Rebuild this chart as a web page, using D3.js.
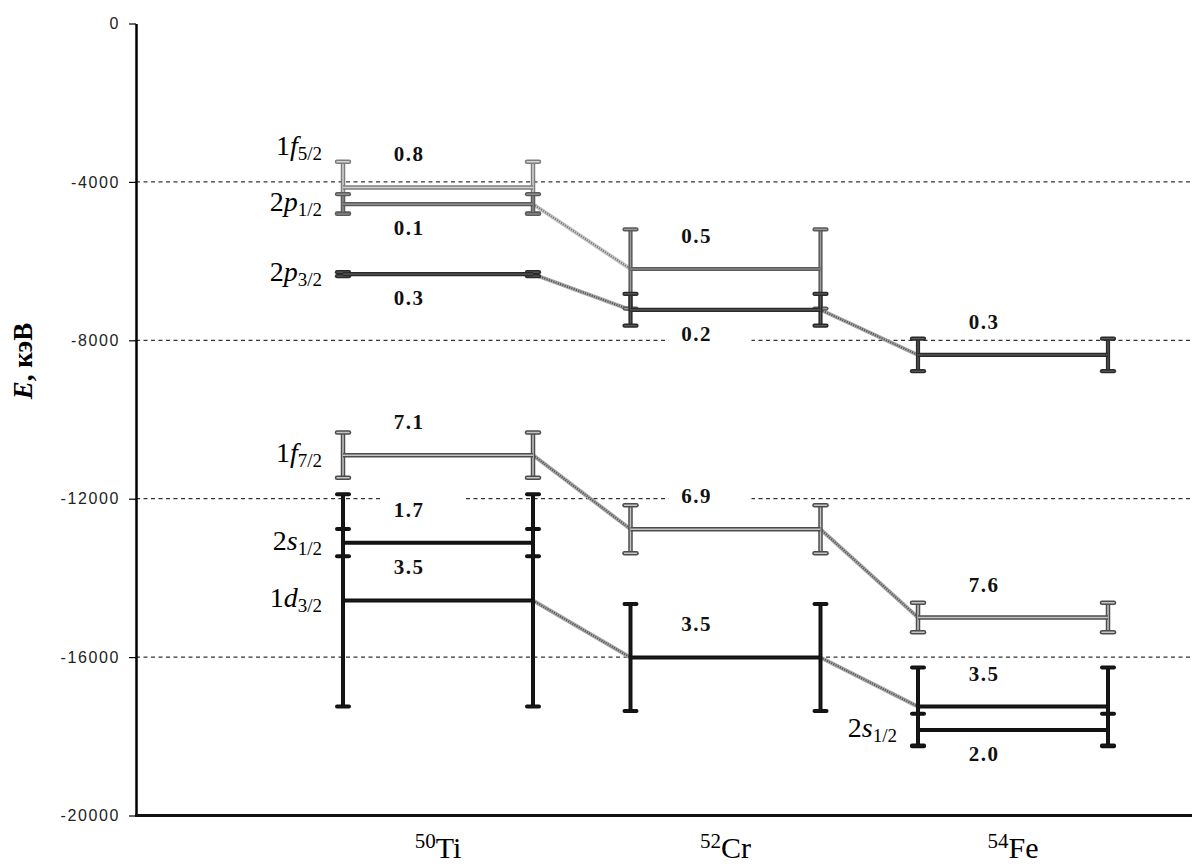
<!DOCTYPE html>
<html>
<head>
<meta charset="utf-8">
<script src="https://cdn.jsdelivr.net/npm/d3@7/dist/d3.min.js"></script>
<style>
  html, body { margin: 0; padding: 0; background: #fff; }
  svg { display: block; }
</style>
</head>
<body>
<svg id="chart" width="1192" height="866"></svg>
<script>
// Single-particle levels of N = 28 isotones: energies (keV), spreads and occupancies
const categories   = ["Ti", "Cr", "Fe"];
const massNumbers  = ["50", "52", "54"];
const orbitals     = ["1f5/2", "2p1/2", "2p3/2", "1f7/2", "2s1/2", "1d3/2"];

// level energy per orbital (null = level not shown for that nucleus)
const energyTi = [-4140, -4560, -6330, -10900, -13110, -14570];
const energyCr = [null, -6200, -7230, -12770, null, -16010];
const energyFe = [null, null, -8370, -15000, -17840, -17250];

// half-width of the spread bars (keV)
const spreadTi = [650, 250, 50, 570, 345, 2680];
const spreadCr = [null, 1000, 400, 606, null, 1350];
const spreadFe = [null, null, 410, 374, 410, 985];

// occupation numbers written next to each level
const occTi = ["0.8", "0.1", "0.3", "7.1", "1.7", "3.5"];
const occCr = [null, "0.5", "0.2", "6.9", null, "3.5"];
const occFe = [null, null, "0.3", "7.6", "2.0", "3.5"];

// which side of the level the occupation number sits on
const occSideTi = ["above", "below", "below", "above", "above", "above"];
const occSideCr = [null, "above", "below", "above", null, "above"];
const occSideFe = [null, null, "above", "above", "below", "above"];

const yTickValues = [0, -4000, -8000, -12000, -16000, -20000];
const gridValues  = [-4000, -8000, -12000, -16000];

// ---- layout -------------------------------------------------------------
const W = 1192, H = 866;
const plotLeft = 136, plotRight = W, plotTop = 23.5, plotBottom = 815.5;
const levelHalf = 95;      // half length of a level bar
const capHalf = 6;         // half width of spread-bar caps

const svg = d3.select("#chart");

const y = d3.scaleLinear().domain([-20000, 0]).range([plotBottom, plotTop]);
const x = d3.scalePoint().domain(categories).range([438, 1013]);

// per-orbital line styles (outer stroke + inner highlight)
const styles = {
  "1f5/2": { outer: "#7d7d7d", inner: "#d4d4d4", w: 4.5 },
  "2p1/2": { outer: "#5a5a5a", inner: "#9a9a9a", w: 4.2 },
  "2p3/2": { outer: "#2a2a2a", inner: "#5a5a5a", w: 4.2 },
  "1f7/2": { outer: "#4c4c4c", inner: "#c4c4c4", w: 4.5 },
  "2s1/2": { outer: "#111111", inner: "#151515", w: 4 },
  "1d3/2": { outer: "#111111", inner: "#1c1c1c", w: 4 }
};

// assemble level records from the arrays
const perNucleus = [
  { e: energyTi, s: spreadTi, o: occTi, side: occSideTi },
  { e: energyCr, s: spreadCr, o: occCr, side: occSideCr },
  { e: energyFe, s: spreadFe, o: occFe, side: occSideFe }
];
const levels = [];
perNucleus.forEach((nuc, ci) => {
  orbitals.forEach((orb, oi) => {
    if (nuc.e[oi] === null) return;
    levels.push({
      cat: categories[ci], ci, orb, oi,
      E: nuc.e[oi], err: nuc.s[oi], occ: nuc.o[oi], side: nuc.side[oi]
    });
  });
});

// ---- gridlines -------------------------------------------------------------
svg.append("g").selectAll("line").data(gridValues).join("line")
  .attr("x1", plotLeft).attr("x2", plotRight)
  .attr("y1", d => y(d)).attr("y2", d => y(d))
  .attr("stroke", "#000").attr("stroke-width", 1)
  .attr("stroke-dasharray", "4 3.5");

// white boxes behind occupation numbers (they interrupt gridlines)
const occY = d => d.side === "above" ? y(d.E) - 26 : y(d.E) + 31;
const occX = d => x(d.cat) - 29;
svg.append("g").selectAll("rect").data(levels).join("rect")
  .attr("x", d => occX(d) - 28).attr("width", 83)
  .attr("y", d => occY(d) - 22).attr("height", 27)
  .attr("fill", "#fff");

// ---- connectors between consecutive nuclei ---------------------------------
const links = [];
orbitals.forEach((orb, oi) => {
  for (let ci = 0; ci < categories.length - 1; ci++) {
    const a = perNucleus[ci].e[oi], b = perNucleus[ci + 1].e[oi];
    if (a !== null && b !== null) {
      links.push({ orb, x1: x(categories[ci]) + levelHalf, y1: y(a),
                   x2: x(categories[ci + 1]) - levelHalf, y2: y(b) });
    }
  }
});
const gLinks = svg.append("g");
gLinks.selectAll("line.base").data(links).join("line")
  .attr("class", "base")
  .attr("x1", d => d.x1).attr("y1", d => d.y1)
  .attr("x2", d => d.x2).attr("y2", d => d.y2)
  .attr("stroke", d => d.orb === "2p1/2" ? "#c8c8c8" : "#a8a8a8")
  .attr("stroke-width", 4);
gLinks.selectAll("line.hatch").data(links).join("line")
  .attr("class", "hatch")
  .attr("x1", d => d.x1).attr("y1", d => d.y1)
  .attr("x2", d => d.x2).attr("y2", d => d.y2)
  .attr("stroke", d => d.orb === "2p1/2" ? "#7a7a7a" : "#555")
  .attr("stroke-width", 2)
  .attr("stroke-dasharray", "1.2 1.2");

// ---- levels with spread bars --------------------------------------------------
const gLev = svg.append("g");
function drawPath(pathD, st, round) {
  gLev.append("path").attr("d", pathD).attr("fill", "none")
    .attr("stroke", st.outer).attr("stroke-width", st.w)
    .attr("stroke-linecap", round ? "round" : "butt");
  gLev.append("path").attr("d", pathD).attr("fill", "none")
    .attr("stroke", st.inner).attr("stroke-width", Math.max(st.w - 3, 1))
    .attr("stroke-linecap", round ? "round" : "butt");
}
levels.forEach(d => {
  const st = styles[d.orb];
  const cx = x(d.cat), x0 = cx - levelHalf, x1 = cx + levelHalf;
  const yc = y(d.E), yt = y(d.E + d.err), yb = y(d.E - d.err);
  // spread bars at both ends
  [x0, x1].forEach(xe => {
    const p = d3.path();
    p.moveTo(xe, yt); p.lineTo(xe, yb);
    drawPath(p.toString(), st, false);
    [yt, yb].forEach(yy => {
      const c = d3.path();
      c.moveTo(xe - capHalf, yy); c.lineTo(xe + capHalf, yy);
      drawPath(c.toString(), st, true);
    });
  });
  // level bar
  const l = d3.path();
  l.moveTo(x0, yc); l.lineTo(x1, yc);
  drawPath(l.toString(), st, false);
});

// ---- occupation numbers ---------------------------------------------------------
svg.append("g").selectAll("text").data(levels).join("text")
  .attr("x", d => occX(d)).attr("y", d => occY(d))
  .attr("text-anchor", "middle")
  .style("font-family", "'Liberation Serif', 'Times New Roman', serif")
  .style("font-weight", "bold").style("font-size", "21px")
  .attr("letter-spacing", 1.5)
  .attr("fill", "#111")
  .text(d => d.occ);

// ---- orbital names at the start of each run of levels ---------------------------
const names = [];
orbitals.forEach((orb, oi) => {
  categories.forEach((cat, ci) => {
    const here = perNucleus[ci].e[oi];
    const prev = ci > 0 ? perNucleus[ci - 1].e[oi] : null;
    if (here !== null && prev === null) names.push({ orb, cat, ci, ty: y(here) + 7 });
  });
});
// keep names in the same column from colliding: push upper ones up
const minGap = 56;
categories.forEach(cat => {
  const col = names.filter(n => n.cat === cat).sort((a, b) => a.ty - b.ty);
  for (let i = col.length - 2; i >= 0; i--) {
    if (col[i].ty > col[i + 1].ty - minGap) col[i].ty = col[i + 1].ty - minGap;
  }
});
const nameText = svg.append("g").selectAll("text").data(names).join("text")
  .attr("x", d => x(d.cat) - levelHalf - 21).attr("y", d => d.ty)
  .attr("text-anchor", "end")
  .style("font-family", "'Liberation Serif', 'Times New Roman', serif")
  .style("font-size", "28px").attr("fill", "#000");
nameText.each(function(d) {
  const t = d3.select(this);
  t.append("tspan").text(d.orb[0]);
  t.append("tspan").style("font-style", "italic").text(d.orb[1]);
  t.append("tspan").style("font-size", "19px").attr("dy", 5).text(d.orb.slice(2));
});

// ---- axes --------------------------------------------------------------------
const yAxis = d3.axisLeft(y).tickValues(yTickValues).tickSize(7).tickSizeOuter(0)
  .tickFormat(d => String(d));
const gy = svg.append("g").attr("transform", `translate(${plotLeft},0)`).call(yAxis);
gy.select(".domain").attr("stroke", "#000").attr("stroke-width", 2.5);
gy.selectAll(".tick line").attr("stroke", "#000").attr("stroke-width", 1.2);
gy.selectAll(".tick text")
  .attr("x", -16)
  .style("font-family", "'Liberation Sans', Arial, sans-serif")
  .style("font-size", "16px").attr("letter-spacing", 1.6)
  .attr("fill", "#222");

// x baseline
svg.append("line")
  .attr("x1", plotLeft - 1).attr("x2", plotRight)
  .attr("y1", y(-20000)).attr("y2", y(-20000))
  .attr("stroke", "#111").attr("stroke-width", 3);

// nucleus labels with mass number superscripts
const catText = svg.append("g").selectAll("text").data(categories).join("text")
  .attr("x", d => x(d)).attr("y", 858)
  .attr("text-anchor", "middle")
  .style("font-family", "'Liberation Serif', 'Times New Roman', serif")
  .style("font-size", "30px").attr("fill", "#000");
catText.each(function(d, i) {
  const t = d3.select(this);
  t.append("tspan").style("font-size", "21px").attr("dy", -10).text(massNumbers[i]);
  t.append("tspan").attr("dy", 10).text(d);
});

// y-axis title
const title = svg.append("text")
  .attr("transform", `translate(32, 361) rotate(-90)`)
  .attr("text-anchor", "middle")
  .style("font-family", "'Liberation Serif', 'Times New Roman', serif")
  .style("font-size", "27px").style("font-weight", "bold").attr("fill", "#000");
title.append("tspan").style("font-style", "italic").text("E");
title.append("tspan").text(", кэВ");
</script>
</body>
</html>
